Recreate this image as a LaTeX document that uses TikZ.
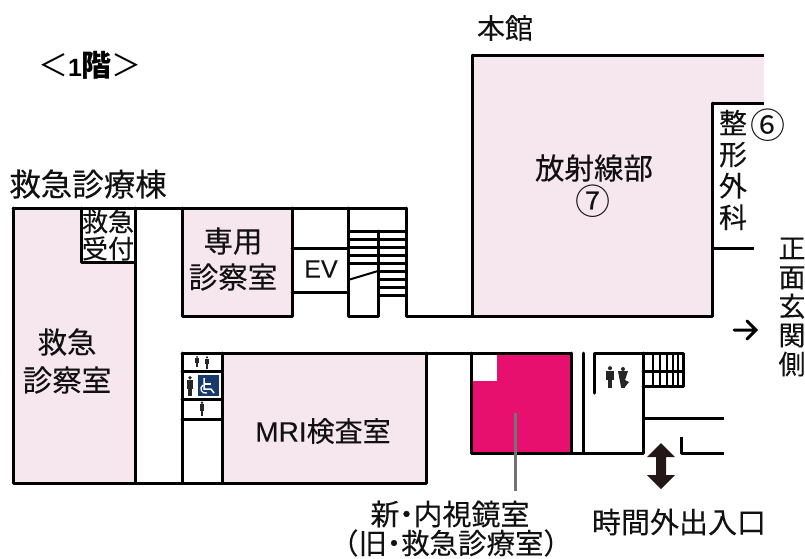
\documentclass[tikz,border=0pt]{standalone}
\usepackage{fontspec}
\setmainfont[FakeBold=0.15]{Noto Sans CJK JP}
\newfontfamily\plaincjk{Noto Sans CJK JP}
\newfontfamily\latinf[FakeBold=0.1]{Liberation Sans}
\newfontfamily\latinplain{Liberation Sans}
\definecolor{roompink}{HTML}{F6E6EE}
\definecolor{magentaroom}{HTML}{E8106F}
\definecolor{iconblue}{HTML}{17396B}
\definecolor{arrowdark}{HTML}{231815}
\definecolor{txt}{HTML}{111111}
\newcommand{\tdot}{\makebox[14pt][c]{・}}
\tikzset{
  x=1pt,y=-1pt,
  wall/.style={line width=3pt,black,line cap=round,line join=round},
  thin step/.style={line width=3pt,black},
  fine step/.style={line width=2.2pt,black},
  room/.style={fill=roompink,draw=none},
  lab/.style={font=\fontsize{26}{31}\selectfont,text=txt,inner sep=0pt,align=center},
  fig/.style={fill=black!85,draw=none},
}
\newcommand{\person}[3]{%
  \fill[fig] (#1-#3*2.6,#2-#3*4) rectangle (#1+#3*2.6,#2+#3*3);
  \fill[fig] (#1-#3*1.3,#2+#3*3) rectangle (#1+#3*1.3,#2+#3*9);
  \fill[fig] (#1,#2-#3*5.8) circle (#3*1.5);
}
\begin{document}
\begin{tikzpicture}
\useasboundingbox (0,0) rectangle (805,558);
% room fills
\fill[room] (13,208) rectangle (135,483);
\fill[white] (81,208) rectangle (135,262);
\fill[room] (182,208) rectangle (292,316);
\fill[room] (222,353) rectangle (426,483);
\fill[room] (472,55) rectangle (764,316);
\fill[white] (712,103) rectangle (764,316);
\fill[magentaroom] (471,353) rectangle (571,453);
\fill[white] (473,355) rectangle (497,381);
% walls west
\draw[wall] (13,208) -- (406,208);
\draw[wall] (13,208) -- (13,483) -- (426,483) -- (426,353);
\draw[wall] (135,208) -- (135,483);
\draw[wall] (81,208) -- (81,262) -- (135,262);
\draw[wall] (182,208) -- (182,316) -- (292,316) -- (292,208);
\draw[wall] (292,248) -- (348,248);
\draw[wall] (292,292) -- (348,292);
\draw[wall] (348,208) -- (348,316) -- (378,316) -- (378,231);
\draw[wall] (406,208) -- (406,316) -- (712,316);
% stairs
\foreach \yy in {231,239,247,255,263}{\draw[thin step] (348,\yy) -- (406,\yy);}
\foreach \yy in {271,279,287,295}{\draw[thin step] (378,\yy) -- (406,\yy);}
\draw[line width=2pt] (348,280) -- (378,271);
% MRI block
\draw[wall] (182,353) -- (571,353);
\draw[wall] (182,353) -- (182,483);
\draw[wall] (222,353) -- (222,483);
\draw[wall] (182,371) -- (222,371);
\draw[wall] (182,399) -- (222,399);
\draw[wall] (182,419) -- (222,419);
% main building
\draw[wall] (472,316) -- (472,55);
\draw[wall,line cap=butt] (472,55) -- (764,55);
\draw[wall] (712,316) -- (712,103);
\draw[wall,line cap=butt] (712,103) -- (764,103);
\draw[wall,line cap=butt] (712,248) -- (754,248);
% magenta room walls and lobby
\draw[wall] (471,353) -- (471,453) -- (643,453);
\draw[wall] (571,353) -- (571,453);
\draw[wall] (583,353) -- (583,453);
\draw[wall] (594,393) -- (594,353) -- (683,353) -- (683,386) -- (643,386);
\draw[wall] (643,353) -- (643,453);
\draw[wall] (643,371) -- (683,371);
\foreach \xx in {653,660,667,673,678}{\draw[fine step] (\xx,353) -- (\xx,386);}
\draw[wall,line cap=butt] (643,418) -- (724,418);
\draw[wall,line cap=butt] (681,437) -- (681,453) -- (724,453);
% leader
\draw[line width=3pt,black!55] (515,413) -- (515,491);
% double arrow
\fill[arrowdark] (661,443) -- (675,457) -- (666,457) -- (666,475) -- (675,475) -- (661,489) -- (647,475) -- (656,475) -- (656,457) -- (647,457) -- cycle;
% entrance arrow
\draw[line width=3pt,black,line cap=round,line join=miter] (734,330) -- (755,330) (747,321) -- (756,330) -- (747,339);
% wc icons
\person{610}{376}{1.35}
\fill[fig] (623,369) circle (2);
\fill[fig] (618,371) -- (628,371) -- (625,380) -- (629,382) -- (625,387) -- (621,387) -- cycle;
\fill[fig] (621,382) rectangle (625,388);
\person{197}{361}{0.7}
\person{207}{362}{0.8}
\person{190}{385}{1.25}
\person{202}{408}{0.9}
\fill[iconblue] (198,375) rectangle (219,396);
\draw[white,line width=1.5pt] (204,378) -- (204,389) -- (211,389) -- (214,393);
\draw[white,line width=1.5pt] (204,384) -- (211,384);
\draw[white,line width=1.3pt] (203,385) .. controls (199,388) and (201,394) .. (207,393);
% labels
\node[lab,font=\fontsize{28}{31}\selectfont] (honkan) at (505,28) {本館};
\node[inner sep=0pt,text=black,font=\fontsize{30}{34}\selectfont] (floor) at (90,65) {{\plaincjk ＜}{\latinplain\bfseries\fontsize{25}{28}\selectfont 1}{\plaincjk\bfseries 階}{\plaincjk ＞}};
\node[lab,font=\fontsize{31.5}{34}\selectfont] (kyubldg) at (88,184) {救急診療棟};
\node[lab,font=\fontsize{26}{29}\selectfont] (uketsuke) at (108,235) {救急\\[-2pt]受付};
\node[lab,font=\fontsize{29.5}{36}\selectfont] (senyo) at (233,259) {専用\\診察室};
\node[inner sep=0pt,font=\latinf\fontsize{25}{30}\selectfont,text=txt] (ev) at (321,269) {EV};
\node[lab,font=\fontsize{29.5}{38}\selectfont] (kyushin) at (67,361) {救急\\診察室};
\node[lab,font=\fontsize{28}{34}\selectfont] (mri) at (323,431) {{\latinf MRI}検査室};
\node[lab,font=\fontsize{29.5}{31}\selectfont] (hoshasen) at (594,168) {放射線部};
\node[lab,font=\plaincjk\fontsize{35}{35}\selectfont] (seven) at (593,201) {⑦};
\node[lab,font=\fontsize{28}{31.5}\selectfont] (seikei) at (733,170) {整\\形\\外\\科};
\node[lab,font=\plaincjk\fontsize{35}{35}\selectfont] (six) at (768,125) {⑥};
\node[lab,font=\fontsize{27}{29}\selectfont] (shomen) at (792,307) {正\\面\\玄\\関\\側};
\node[lab,font=\fontsize{29}{30}\selectfont] (shin) at (450,514) {新\tdot 内視鏡室};
\node[lab,font=\fontsize{28.5}{30}\selectfont] (kyu) at (451,543) {（旧\tdot 救急診療室）};
\node[lab,font=\fontsize{29}{30}\selectfont] (jikangai) at (679,522) {時間外出入口};
\end{tikzpicture}
\end{document}
